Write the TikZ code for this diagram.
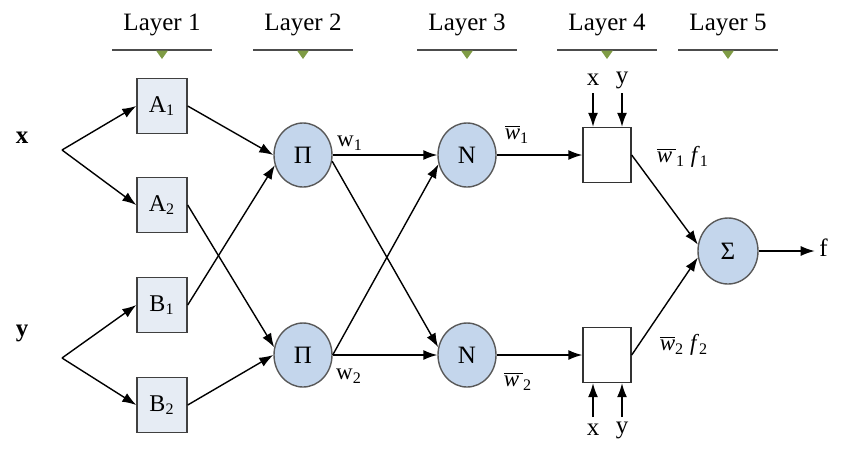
\documentclass[tikz,border=0pt]{standalone}
\usepackage{fontspec}
\setmainfont{Liberation Serif}
\usetikzlibrary{arrows.meta,shapes.geometric}

\definecolor{mfcol}{HTML}{E6ECF4}
\definecolor{opcol}{HTML}{C4D6EC}
\definecolor{tricol}{HTML}{7F9C45}
\newcommand{\wbar}{$\overline{\mbox{\itshape w}}$}

\begin{document}
\begin{tikzpicture}[x=0.5pt,y=-0.5pt,
	>={Latex[length=7pt,width=5pt]},
	mf/.style={draw=black!75,line width=0.7pt,fill=mfcol,minimum width=25pt,minimum height=27.5pt,inner sep=0pt,font=\fontsize{12}{14}\selectfont},
	op/.style={ellipse,draw=black!65,line width=0.7pt,fill=opcol,minimum width=29pt,minimum height=32pt,inner sep=0pt,font=\fontsize{12.5}{14}\selectfont},
	prod/.style={draw=black!80,line width=0.7pt,fill=white,minimum width=24pt,minimum height=27.5pt,inner sep=0pt},
	lbl/.style={font=\fontsize{11.5}{14}\selectfont,inner sep=0pt},
	wire/.style={->,line width=0.7pt}]
	\useasboundingbox (0,0) rectangle (850,451);

	% layer headers
	\foreach \x/\n in {162/1, 303/2, 467/3, 607/4, 728/5} {
		\node[font=\fontsize{12.5}{15}\selectfont] (layer\n) at (\x,25) {Layer \n};
		\draw[black!70,line width=1pt] (\x-50,50) -- (\x+50,50);
		\fill[tricol] (\x-6,50.5) -- (\x+6,50.5) -- (\x,59) -- cycle;
	}

	% inputs
	\node[lbl,font=\fontsize{12.5}{15}\bfseries] (x) at (22,138) {x};
	\node[lbl,font=\fontsize{12.5}{15}\bfseries] (y) at (22,333) {y};
	\coordinate (xs) at (62,150);
	\coordinate (ys) at (62,358);

	% layer 1
	\node[mf] (a1) at (162,106) {A\textsubscript{1}};
	\node[mf] (a2) at (162,205) {A\textsubscript{2}};
	\node[mf] (b1) at (162,305) {B\textsubscript{1}};
	\node[mf] (b2) at (162,405) {B\textsubscript{2}};

	% layer 2 and 3
	\node[op] (p1) at (303,155) {Π};
	\node[op] (p2) at (303,355) {Π};
	\node[op] (n1) at (467,155) {N};
	\node[op] (n2) at (467,355) {N};

	% layer 4 and 5
	\node[prod] (c1) at (607,155) {};
	\node[prod] (c2) at (607,355) {};
	\node[op,minimum width=30pt,minimum height=33pt] (s) at (728,251) {Σ};
	\node[lbl,font=\fontsize{12.5}{15}\selectfont,anchor=west] (f) at (819,248) {f};

	\draw[wire] (xs) -- (a1.west);
	\draw[wire] (xs) -- (a2.west);
	\draw[wire] (ys) -- (b1.west);
	\draw[wire] (ys) -- (b2.west);

	\draw[wire] (a1.east) -- (p1.west);
	\draw[wire] (b1.east) -- (p1.200);
	\draw[wire] (a2.east) -- (p2.165);
	\draw[wire] (b2.east) -- (p2.west);

	\draw[wire] (p1.east) -- (n1.west);
	\draw[wire] (p1.-12) -- (n2.165);
	\draw[wire] (p2.east) -- (n1.198);
	\draw[wire] (p2.east) -- (n2.west);

	\draw[wire] (n1.east) -- (c1.west);
	\draw[wire] (n2.east) -- (c2.west);
	\draw[wire] (c1.east) -- (s.168);
	\draw[wire] (c2.east) -- (s.192);
	\draw[wire] (s.east) -- ++(56,0);

	% x, y into the product nodes
	\node[lbl,font=\fontsize{12.5}{15}\selectfont] (x1) at (593,80) {x};
	\node[lbl,font=\fontsize{12.5}{15}\selectfont] (y1) at (622,80) {y};
	\node[lbl,font=\fontsize{12.5}{15}\selectfont] (x2) at (593,430) {x};
	\node[lbl,font=\fontsize{12.5}{15}\selectfont] (y2) at (622,430) {y};
	\draw[wire] (593,93) -- (c1.north -| x1);
	\draw[wire] (622,93) -- (c1.north -| y1);
	\draw[wire] (593,417) -- (c2.south -| x2);
	\draw[wire] (622,417) -- (c2.south -| y2);

	% weights
	\node[lbl] (w1) at (350,143) {w\textsubscript{1}};
	\node[lbl] (w2) at (349,376) {w\textsubscript{2}};
	\node[lbl] (nw1) at (517,134) {\wbar\textsubscript{1}};
	\node[lbl] (nw2) at (518,381) {$\overline{\mbox{\itshape w\,}}$\textsubscript{2}};
	\node[lbl] (wf1) at (683,157) {$\overline{\mbox{\itshape w\,}}$\textsubscript{1} \textit{f}\textsubscript{1}};
	\node[lbl] (wf2) at (684,345) {\wbar\textsubscript{2} \textit{f}\textsubscript{2}};

\end{tikzpicture}
\end{document}
